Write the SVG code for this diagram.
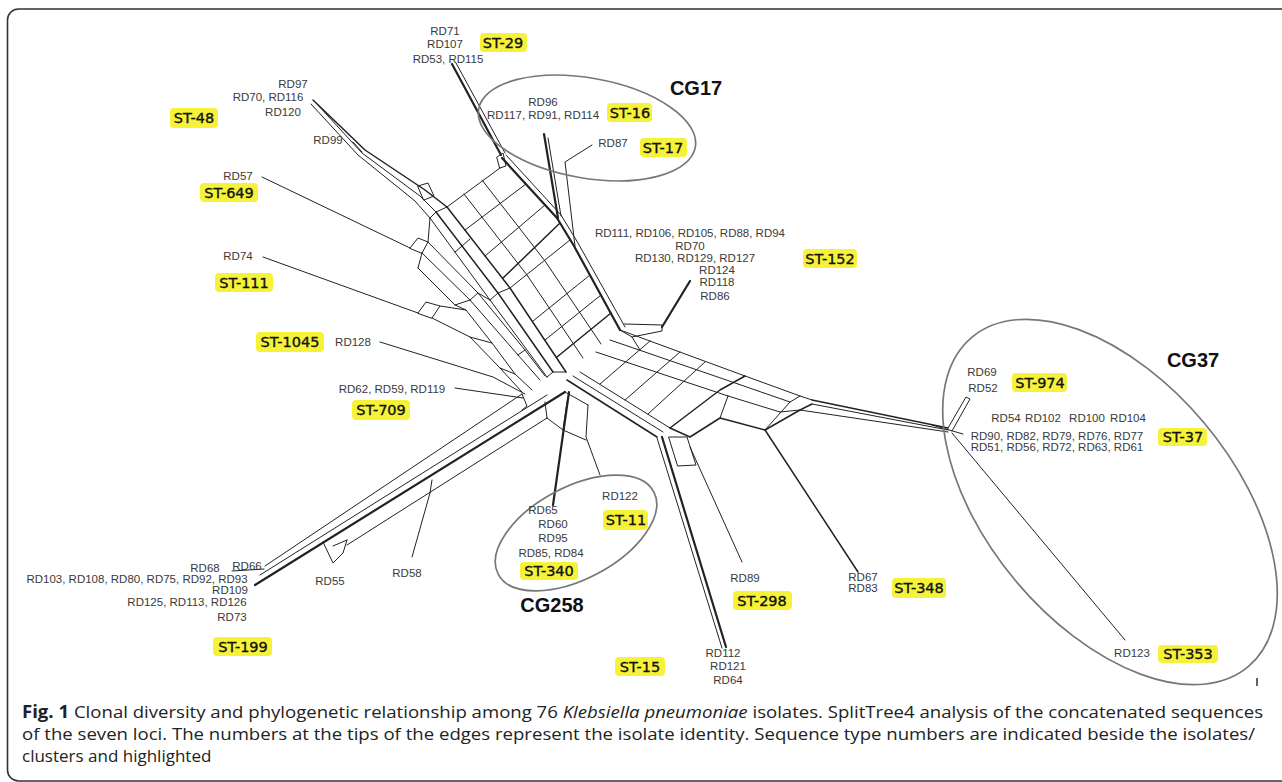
<svg xmlns="http://www.w3.org/2000/svg" width="1282" height="782" viewBox="0 0 1282 782">
<style>
.e{fill:none;stroke:#222;stroke-width:1;stroke-linejoin:round;stroke-linecap:round}
.t{stroke-width:2.2}
.m{stroke-width:1.5}
.rd{font-family:"Liberation Sans",Arial,sans-serif;font-size:11.5px;fill:#3a3a3a;text-anchor:middle}
.st{font-family:"DejaVu Sans",Verdana,sans-serif;font-size:14.5px;fill:#111;stroke:#111;stroke-width:0.35;text-anchor:middle}
.hl{fill:#f6f23a}
.cg{font-family:"Liberation Sans",Arial,sans-serif;font-size:20px;font-weight:bold;fill:#111;text-anchor:middle}
.ell{fill:none;stroke:#777;stroke-width:1.7}
.cap{font-family:"Open Sans","Liberation Sans",sans-serif;font-size:17px;fill:#222}
</style>
<rect x="7.5" y="9" width="1300" height="772" rx="11" fill="#fff" stroke="#333" stroke-width="1.6"/>

<g id="connectors">
<path class="e t" d="M452,64 L501,155"/>
<path class="e" d="M456,63 L505,153"/>
<path class="e" d="M497,157 L503,153 L506,166 L500,168 Z"/>
<path class="e t" d="M544,134 L558,218"/>
<path class="e" d="M548,138 L561,216"/>
<path class="e" d="M592,145 L565,162 L575,246"/>
<path class="e m" d="M447,207 L510,288 L566,372"/>
<path class="e t" d="M502,158 L557,218 L574,246 L620,330"/>
<path class="e" d="M506,155 L561,215 L578,243 L625,327"/>
<path class="e" d="M447,207 L500,168"/>
<path class="e" d="M464,194 L527,275 L583,358"/>
<path class="e" d="M482,180 L545,261 L601,344"/>
<path class="e" d="M465,230 L526,184"/>
<path class="e" d="M485,256 L545,205"/>
<path class="e m" d="M503,278 L560,223"/>
<path class="e" d="M510,288 L570,240"/>
<path class="e" d="M533,321 L590,275"/>
<path class="e" d="M545,340 L601,295"/>
<path class="e m" d="M557,357 L611,313"/>
<path class="e m" d="M313,100 L365,150 L425,190 L447,207"/>
<path class="e" d="M316,103 L362,153 L420,196 L436,212"/>
<path class="e" d="M311,104 L358,155 L415,201 L430,218"/>
<path class="e" d="M353,142 L362,152"/>
<path class="e" d="M418,186 L428,183 L434,196 L424,200 Z"/>
<path class="e m" d="M436,212 L498,293 L553,372"/>
<path class="e" d="M430,218 L490,300 L547,377"/>
<path class="e" d="M447,207 L436,212 L430,218"/>
<path class="e" d="M510,288 L498,293 L490,300"/>
<path class="e" d="M566,372 L553,372 L547,377"/>
<path class="e" d="M470,239 L462,246 L455,252"/>
<path class="e" d="M262,177 L410,248"/>
<path class="e" d="M410,248 L418,238 L428,242 L422,253 Z"/>
<path class="e" d="M422,253 L470,300 L518,355 L540,380"/>
<path class="e" d="M428,242 L478,293 L525,350 L545,376"/>
<path class="e" d="M428,242 L430,218"/>
<path class="e" d="M470,300 L478,293 L490,300"/>
<path class="e" d="M518,355 L525,350"/>
<path class="e" d="M263,257 L418,313"/>
<path class="e" d="M418,313 L426,302 L440,306 L432,318 Z"/>
<path class="e" d="M432,318 L470,337 L500,368 L522,392"/>
<path class="e" d="M440,306 L466,310 L492,343 L515,374 L532,390"/>
<path class="e" d="M418,268 L455,305 L466,310"/>
<path class="e" d="M418,268 L422,253"/>
<path class="e" d="M470,337 L492,343"/>
<path class="e" d="M500,368 L515,374"/>
<path class="e" d="M455,305 L470,300"/>
<path class="e" d="M380,342 L493,377 L525,394"/>
<path class="e" d="M455,388 L523,398"/>
<path class="e" d="M265,566 L522,394"/>
<path class="e" d="M260,575 L547,395"/>
<path class="e t" d="M255,585 L565,392"/>
<path class="e" d="M232,571 L264,569"/>
<path class="e" d="M347,545 L547,418"/>
<path class="e" d="M323,542 L333,563 L343,553 L347,540"/>
<path class="e" d="M333,546 L347,540"/>
<path class="e" d="M432,480 L430,493 L412,557"/>
<path class="e" d="M522,394 L527,406 L522,410"/>
<path class="e" d="M545,402 L547,418"/>
<path class="e t" d="M569,392 L553,505"/>
<path class="e" d="M588,405 L586,437 L600,475"/>
<path class="e" d="M547,418 L563,430 L586,440"/>
<path class="e" d="M563,430 L567,402"/>
<path class="e" d="M565,392 L588,405"/>
<path class="e" d="M620,330 L745,376"/>
<path class="e" d="M610,340 L738,384"/>
<path class="e" d="M596,352 L728,396"/>
<path class="e m" d="M567,380 L657,437"/>
<path class="e" d="M573,376 L663,432"/>
<path class="e" d="M580,372 L670,428"/>
<path class="e" d="M600,384 L650,341"/>
<path class="e" d="M625,400 L680,352"/>
<path class="e" d="M648,414 L705,362"/>
<path class="e m" d="M670,428 L720,390 L745,376"/>
<path class="e" d="M745,376 L800,396 L812,400"/>
<path class="e" d="M738,384 L790,402"/>
<path class="e" d="M728,396 L780,412"/>
<path class="e m" d="M670,428 L690,437 L720,418 L765,430 L800,410 L812,404"/>
<path class="e" d="M720,418 L728,396"/>
<path class="e" d="M765,430 L790,402 L800,396"/>
<path class="e" d="M780,412 L800,410"/>
<path class="e m" d="M812,400 L948,428"/>
<path class="e" d="M812,404 L948,430"/>
<path class="e" d="M800,410 L948,432"/>
<path class="e" d="M932,425 L963,434"/>
<path class="e" d="M620,330 L632,337 L662,331 L662,325 L624,324"/>
<path class="e" d="M632,337 L640,350"/>
<path class="e t" d="M662,327 L690,281"/>
<path class="e" d="M657,438 L722,648"/>
<path class="e t" d="M662,437 L726,647"/>
<path class="e" d="M669,437 L687,437 L696,465 L678,466 Z"/>
<path class="e" d="M690,447 L742,562"/>
<path class="e m" d="M765,430 L858,572"/>
<path class="e" d="M948,428 L966,397 L970,399 L952,431"/>
<path class="e" d="M952,433 L1125,640"/>
</g>

<g id="ellipses">
<ellipse class="ell" cx="587" cy="128" rx="110" ry="50" transform="rotate(10 587 128)"/>
<ellipse class="ell" cx="576" cy="533" rx="88" ry="46" transform="rotate(-28 576 533)"/>
<ellipse class="ell" cx="1110" cy="502" rx="215" ry="123" transform="rotate(50 1110 502)"/>
</g>

<g id="n-st29">
<text class="rd" x="445" y="35">RD71</text>
<text class="rd" x="445" y="48">RD107</text>
<text class="rd" x="448" y="63">RD53, RD115</text>
<rect class="hl" x="480" y="33" width="47" height="19" rx="4"/>
<text class="st" x="503" y="48">ST-29</text>
</g>
<g id="n-cg17">
<text class="cg" x="696" y="95">CG17</text>
<text class="rd" x="543" y="106">RD96</text>
<text class="rd" x="543" y="119">RD117, RD91, RD114</text>
<rect class="hl" x="607" y="103" width="45" height="19" rx="4"/>
<text class="st" x="630" y="118">ST-16</text>
<text class="rd" x="613" y="147">RD87</text>
<rect class="hl" x="640" y="138" width="47" height="19" rx="4"/>
<text class="st" x="663" y="153">ST-17</text>
</g>
<g id="n-st48">
<text class="rd" x="293" y="88">RD97</text>
<text class="rd" x="268" y="101">RD70, RD116</text>
<text class="rd" x="283" y="116">RD120</text>
<rect class="hl" x="170" y="108" width="48" height="20" rx="4"/>
<text class="st" x="194" y="123">ST-48</text>
<text class="rd" x="328" y="144">RD99</text>
</g>
<g id="n-st649">
<text class="rd" x="238" y="180">RD57</text>
<rect class="hl" x="200" y="183" width="58" height="19" rx="4"/>
<text class="st" x="229" y="198">ST-649</text>
</g>
<g id="n-st111">
<text class="rd" x="238" y="260">RD74</text>
<rect class="hl" x="215" y="273" width="58" height="19" rx="4"/>
<text class="st" x="244" y="288">ST-111</text>
</g>
<g id="n-st1045">
<rect class="hl" x="256" y="332" width="68" height="20" rx="4"/>
<text class="st" x="290" y="347">ST-1045</text>
<text class="rd" x="353" y="346">RD128</text>
</g>
<g id="n-st709">
<text class="rd" x="392" y="393">RD62, RD59, RD119</text>
<rect class="hl" x="352" y="400" width="58" height="20" rx="4"/>
<text class="st" x="381" y="415">ST-709</text>
</g>
<g id="n-st152">
<text class="rd" x="690" y="237">RD111, RD106, RD105, RD88, RD94</text>
<text class="rd" x="690" y="250">RD70</text>
<text class="rd" x="695" y="262">RD130, RD129, RD127</text>
<text class="rd" x="717" y="274">RD124</text>
<text class="rd" x="717" y="286">RD118</text>
<text class="rd" x="715" y="300">RD86</text>
<rect class="hl" x="803" y="249" width="54" height="19" rx="4"/>
<text class="st" x="830" y="264">ST-152</text>
</g>
<g id="n-st199">
<text class="rd" x="205" y="572">RD68</text>
<text class="rd" x="247" y="570">RD66</text>
<text class="rd" x="137" y="583">RD103, RD108, RD80, RD75, RD92, RD93</text>
<text class="rd" x="230" y="594">RD109</text>
<text class="rd" x="187" y="606">RD125, RD113, RD126</text>
<text class="rd" x="232" y="621">RD73</text>
<rect class="hl" x="213" y="637" width="59" height="19" rx="4"/>
<text class="st" x="243" y="652">ST-199</text>
<text class="rd" x="330" y="585">RD55</text>
<text class="rd" x="407" y="577">RD58</text>
</g>
<g id="n-cg258">
<text class="rd" x="543" y="514">RD65</text>
<text class="rd" x="553" y="528">RD60</text>
<text class="rd" x="553" y="542">RD95</text>
<text class="rd" x="551" y="557">RD85, RD84</text>
<rect class="hl" x="520" y="562" width="58" height="18" rx="4"/>
<text class="st" x="549" y="576">ST-340</text>
<text class="rd" x="620" y="500">RD122</text>
<rect class="hl" x="603" y="510" width="45" height="20" rx="4"/>
<text class="st" x="626" y="525">ST-11</text>
<text class="cg" x="552" y="612">CG258</text>
</g>
<g id="n-st298">
<text class="rd" x="745" y="582">RD89</text>
<rect class="hl" x="733" y="591" width="59" height="19" rx="4"/>
<text class="st" x="762" y="606">ST-298</text>
</g>
<g id="n-st348">
<text class="rd" x="863" y="581">RD67</text>
<text class="rd" x="863" y="592">RD83</text>
<rect class="hl" x="892" y="578" width="54" height="20" rx="4"/>
<text class="st" x="919" y="593">ST-348</text>
</g>
<g id="n-st15">
<text class="rd" x="723" y="657">RD112</text>
<text class="rd" x="728" y="670">RD121</text>
<text class="rd" x="728" y="684">RD64</text>
<rect class="hl" x="615" y="657" width="50" height="19" rx="4"/>
<text class="st" x="640" y="672">ST-15</text>
</g>
<g id="n-cg37">
<text class="cg" x="1193" y="367">CG37</text>
<text class="rd" x="982" y="376">RD69</text>
<text class="rd" x="983" y="392">RD52</text>
<rect class="hl" x="1012" y="373" width="55" height="19" rx="4"/>
<text class="st" x="1040" y="388">ST-974</text>
<text class="rd" x="1006" y="422">RD54</text>
<text class="rd" x="1043" y="422">RD102</text>
<text class="rd" x="1087" y="422">RD100</text>
<text class="rd" x="1128" y="422">RD104</text>
<text class="rd" x="1057" y="440">RD90, RD82, RD79, RD76, RD77</text>
<text class="rd" x="1057" y="451">RD51, RD56, RD72, RD63, RD61</text>
<rect class="hl" x="1158" y="428" width="49" height="18" rx="4"/>
<text class="st" x="1183" y="442">ST-37</text>
<text class="rd" x="1132" y="657">RD123</text>
<rect class="hl" x="1158" y="645" width="60" height="18" rx="4"/>
<text class="st" x="1188" y="659">ST-353</text>
</g>
<path d="M1257,678 L1257,686" stroke="#333" stroke-width="1.5"/>

<g id="caption">
<text class="cap" x="22" y="718" textLength="1241" lengthAdjust="spacingAndGlyphs"><tspan font-weight="bold">Fig. 1</tspan> Clonal diversity and phylogenetic relationship among 76 <tspan font-style="italic">Klebsiella pneumoniae</tspan> isolates. SplitTree4 analysis of the concatenated sequences</text>
<text class="cap" x="22" y="740" textLength="1233" lengthAdjust="spacingAndGlyphs">of the seven loci. The numbers at the tips of the edges represent the isolate identity. Sequence type numbers are indicated beside the isolates/</text>
<text class="cap" x="22" y="762">clusters and highlighted</text>
</g>
</svg>
